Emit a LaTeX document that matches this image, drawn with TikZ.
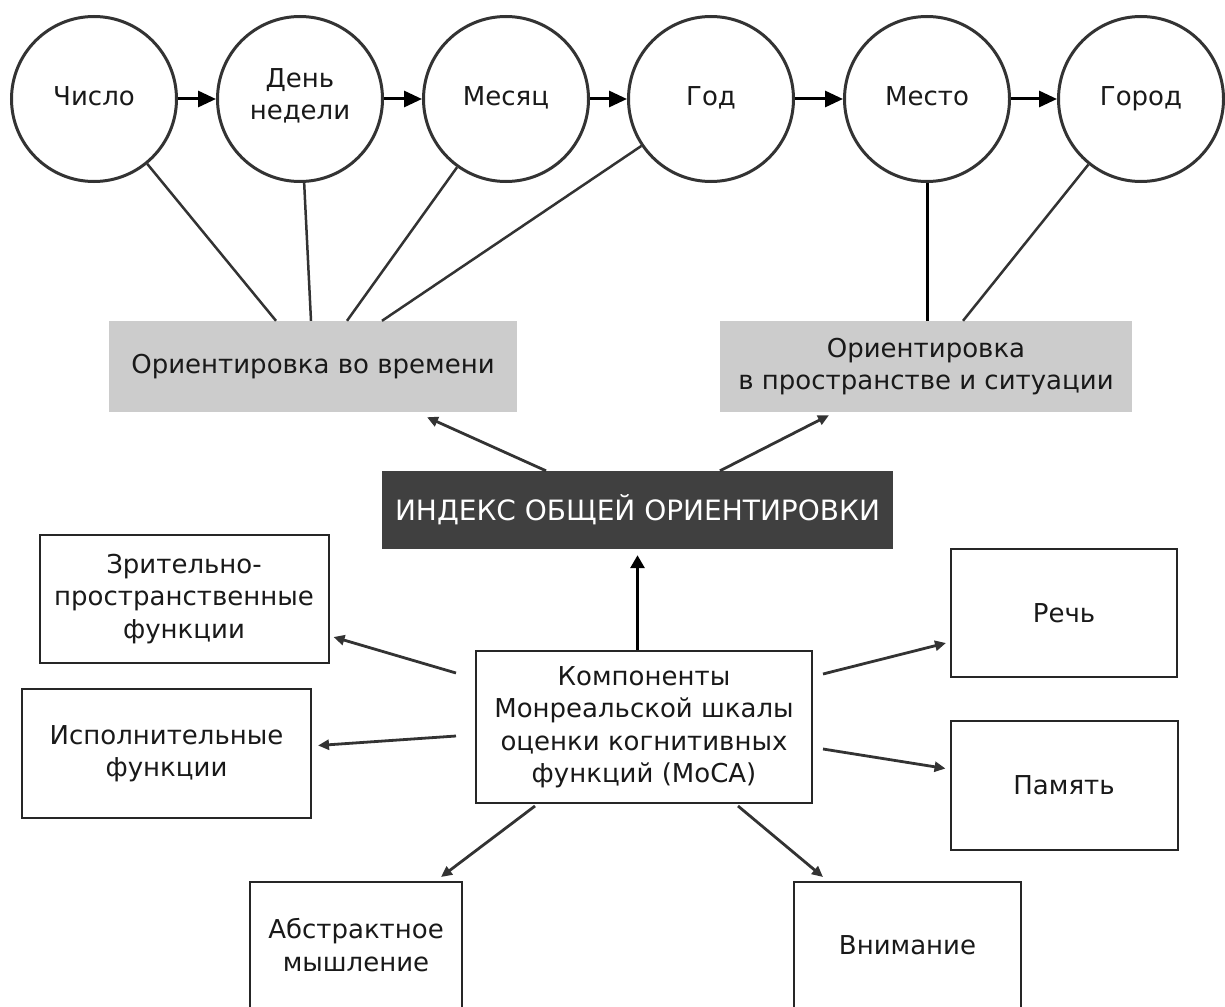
\documentclass[tikz,border=0pt]{standalone}
\usepackage{fontspec}
\setmainfont{DejaVu Sans}
\usetikzlibrary{arrows.meta, positioning}

\definecolor{ink}{HTML}{333333}
\definecolor{idxgrey}{HTML}{404040}
\definecolor{boxgrey}{HTML}{CCCCCC}

\tikzset{
    txt/.style={font=\fontsize{26}{32.5}\selectfont, text=black!90, align=center},
    dateball/.style={txt, circle, draw=ink, line width=3pt, minimum size=165pt, inner sep=0pt,
        execute at begin node=\strut},
    orientbox/.style={txt, fill=boxgrey, minimum height=91pt},
    compbox/.style={txt, draw=black!85, line width=2pt, inner sep=0pt},
    chain/.style={-{Triangle[length=18pt,width=16pt]}, line width=3pt, black},
    spoke/.style={line width=2.5pt, ink},
    arr/.style={-{Triangle[length=11pt,width=10pt]}, line width=2.8pt, ink}
}

\begin{document}
\begin{tikzpicture}[x=1pt, y=-1pt]

    \useasboundingbox (0,0) rectangle (1225,1006);

    % Date and place items (top row)
    \node[dateball] (num)   at (94,99)   {Число};
    \node[dateball] (day)   at (300,99)  {День\\недели};
    \node[dateball] (month) at (506,99)  {Месяц};
    \node[dateball] (year)  at (711,99)  {Год};
    \node[dateball] (place) at (927,99)  {Место};
    \node[dateball] (city)  at (1141,99) {Город};

    \foreach \a/\b in {num/day, day/month, month/year, year/place, place/city}
        \draw[chain] (\a) -- (\b);

    % Orientation groups
    \node[orientbox, minimum width=408pt] (timebox)  at (313,366.5)
        {Ориентировка во времени};
    \node[orientbox, minimum width=412pt] (spacebox) at (926,366.5)
        {Ориентировка\\в пространстве и ситуации};

    \foreach \c/\dx in {num/-37, day/-2, month/34, year/69}
        \draw[spoke] (\c) -- ([xshift=\dx pt]timebox.north);
    \draw[spoke, black, line width=3pt] (place) -- (place |- spacebox.north);
    \draw[spoke] (city) -- ([xshift=37pt]spacebox.north);

    % Index
    \node[txt, fill=idxgrey, text=white, font=\fontsize{28}{34}\selectfont,
          minimum width=511pt, minimum height=78pt] (idx) at (637.5,510)
        {ИНДЕКС ОБЩЕЙ ОРИЕНТИРОВКИ};

    \draw[arr] ([xshift=-91.5pt]idx.north) -- ([xshift=114pt, yshift=-5pt]timebox.south);
    \draw[arr] ([xshift=82.5pt]idx.north) -- ([xshift=-97pt, yshift=-3pt]spacebox.south);

    % MoCA components
    \node[compbox, minimum width=336pt, minimum height=152pt] (moca) at (644,727)
        {Компоненты\\Монреальской шкалы\\оценки когнитивных\\функций (MoCA)};

    \node[compbox, minimum width=289pt, minimum height=128pt] (vis)    at (184,599)
        {Зрительно-\\пространственные\\функции};
    \node[compbox, minimum width=289pt, minimum height=129pt] (exec)   at (166.5,753.5)
        {Исполнительные\\функции};
    \node[compbox, minimum width=226pt, minimum height=128pt] (speech) at (1064,613)
        {Речь};
    \node[compbox, minimum width=227pt, minimum height=129pt] (mem)    at (1064,785.5)
        {Память};
    \node[compbox, minimum width=212pt, minimum height=126pt] (abs)    at (356,945)
        {Абстрактное\\мышление};
    \node[compbox, minimum width=227pt, minimum height=126pt] (attn)   at (907.5,945)
        {Внимание};

    \draw[chain, line width=3pt, -{Triangle[length=13pt,width=14pt]}]
        (idx.south |- moca.north) -- ([yshift=-6pt]idx.south);

    \draw[arr] ([shift={(-19,-54)}]moca.west) -- ([shift={(4,38)}]vis.east);
    \draw[arr] ([shift={(-19,9)}]moca.west) -- ([shift={(6,-8)}]exec.east);
    \draw[arr] ([shift={(10,-53)}]moca.east) -- ([shift={(-4,30)}]speech.west);
    \draw[arr] ([shift={(10,22)}]moca.east) -- ([shift={(-4,-17)}]mem.west);
    \draw[arr] ([shift={(60,2)}]moca.south west) -- ([shift={(85,-4)}]abs.north);
    \draw[arr] ([shift={(-75,2)}]moca.south east) -- ([shift={(-84.5,-4)}]attn.north);

\end{tikzpicture}
\end{document}
